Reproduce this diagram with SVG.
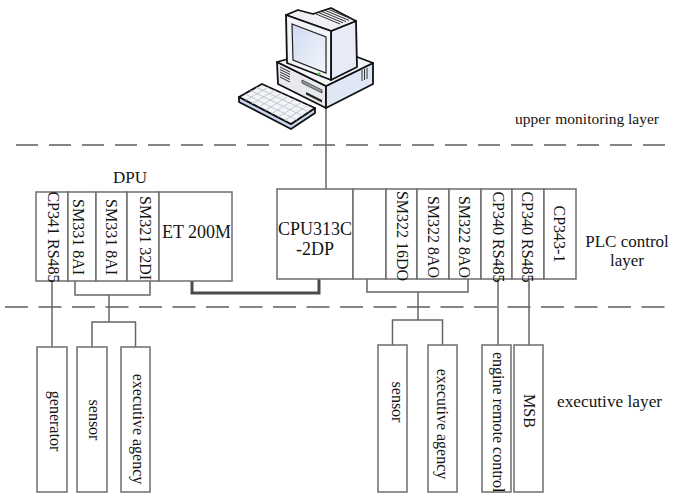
<svg xmlns="http://www.w3.org/2000/svg" width="673" height="494" viewBox="0 0 673 494">
  <style>
    .box { fill: #ffffff; stroke: #6e6e6e; stroke-width: 1.5; }
    .t { font-family: "Liberation Serif", "Times New Roman", serif; fill: #141414; }
    .s16 { font-size: 16px; }
    .s18 { font-size: 18px; }
    .conn { fill: none; stroke: #666666; stroke-width: 1.5; }
    .bus { fill: none; stroke: #4a4a4a; stroke-width: 3; }
    .dash { fill: none; stroke: #858585; stroke-width: 2; }
    .ink { stroke: #111111; stroke-width: 1.8; stroke-linejoin: round; }
    .key { stroke: #b9bdc9; stroke-width: 0.8; fill: none; }
    .vent { stroke: #333333; stroke-width: 1; fill: none; }
  </style>
  <defs>
    <linearGradient id="screenGrad" x1="0" y1="0" x2="1" y2="1">
      <stop offset="0" stop-color="#cfd9f0"/>
      <stop offset="1" stop-color="#f4f6fb"/>
    </linearGradient>
  </defs>

  <rect width="673" height="494" fill="#ffffff"/>

  <!-- layer separators -->
  <g id="separators">
    <line class="dash" x1="16" y1="145" x2="665" y2="145" stroke-dasharray="22 11"/>
    <line class="dash" x1="5" y1="307" x2="665" y2="307" stroke-dasharray="23 10.5"/>
  </g>

  <!-- layer captions -->
  <g id="captions">
    <text class="t" x="515" y="124" font-size="15.5">upper<tspan dx="5">monitoring layer</tspan></text>
    <text class="t" x="627" y="247" font-size="17" text-anchor="middle">PLC control</text>
    <text class="t" x="627" y="266" font-size="17" text-anchor="middle">layer</text>
    <text class="t" x="557" y="407" font-size="17.3">executive layer</text>
  </g>

  <!-- connectors -->
  <g id="connectors">
    <path class="conn" d="M326,107 V189"/>
    <path class="conn" d="M52,281 V347"/>
    <path class="conn" d="M75,281 V295 H150 V281"/>
    <path class="conn" d="M109,295 V322"/>
    <path class="conn" d="M92,347 V322 H135.5 V347"/>
    <path class="bus" d="M192,281 V293 H319 V279"/>
    <path class="conn" d="M367,279 V292 H468 V279"/>
    <path class="conn" d="M418,292 V320"/>
    <path class="conn" d="M392.5,345 V320 H442.5 V345"/>
    <path class="conn" d="M498,279 V345"/>
    <path class="conn" d="M529,279 V345"/>
  </g>

  <!-- upper computer -->
  <g id="upper-computer">
    <!-- keyboard -->
    <polygon class="ink" fill="#c9d4ee" points="239,97 291,124 315,108 315,113 291,129 239,102"/>
    <polygon class="ink" fill="#f3f4f8" points="239,97 262,84 315,108 291,124"/>
    <path class="key" d="M244.8,93.8 L297,120 M250.5,90.5 L303,116 M256.3,87.3 L309,112
                         M245.5,100.4 L268.6,87 M252,103.8 L275.3,90 M258.5,107.1 L281.9,93
                         M265,110.5 L288.5,96 M271.5,113.9 L295.1,99 M278,117.3 L301.8,102
                         M284.5,120.6 L308.4,105"/>
    <!-- case -->
    <polygon class="ink" fill="#e7e9ef" points="277,62 326,86 326,108 278,84"/>
    <polygon class="ink" fill="#dfe6f4" points="326,86 373,63 373,84 326,108"/>
    <polygon class="ink" fill="#f5f6f9" points="277,62 331,47 373,63 326,86"/>
    <path class="vent" d="M280,67 L290,72 M280,69.5 L290,74.5 M280,72 L290,77 M280,74.5 L290,79.5 M280,77 L290,82"/>
    <polygon fill="#9a9ea8" stroke="#333" stroke-width="0.8" points="302,80 322,90 322,93 302,83"/>
    <polygon fill="#222" points="306,92 322,100 322,102.5 306,94.5"/>
    <path class="vent" d="M362,70 V81 M364.5,69 V80 M367,68 V79"/>
    <!-- monitor -->
    <polygon class="ink" fill="#e6ebf6" points="331,31 356,21 357,67 331,80"/>
    <polygon class="ink" fill="#eef0f4" points="286,15 298,10 313,14 331,8 356,21 331,31"/>
    <path class="vent" d="M316,14 L340,24 M319,12.8 L343,22.8 M322,11.6 L346,21.6 M325,10.4 L349,20.4 M328,9.2 L352,19.2"/>
    <polygon class="ink" fill="#f3f4f7" points="286,15 331,31 331,80 287,63"/>
    <polygon fill="url(#screenGrad)" stroke="#222" stroke-width="1.2" points="292,24 326,37 326,73 293,60"/>
    <circle cx="319" cy="74" r="1.6" fill="#37c23a"/>
  </g>

  <!-- DPU rack (ET 200M station) -->
  <g id="dpu">
    <text class="t" x="130" y="183" font-size="17" text-anchor="middle">DPU</text>
  </g>
  <g id="cp341">
    <rect class="box" x="36" y="192" width="32" height="89"/>
    <text class="t s16" text-anchor="middle" transform="translate(48,237) rotate(90)">CP341 RS485</text>
  </g>
  <g id="sm331-a">
    <rect class="box" x="68" y="192" width="28" height="89"/>
    <text class="t s16" text-anchor="middle" transform="translate(73,237) rotate(90)">SM331 8AI</text>
  </g>
  <g id="sm331-b">
    <rect class="box" x="96" y="192" width="31" height="89"/>
    <text class="t s16" text-anchor="middle" transform="translate(106,237) rotate(90)">SM331 8AI</text>
  </g>
  <g id="sm321">
    <rect class="box" x="127" y="192" width="32" height="89"/>
    <text class="t s16" text-anchor="middle" transform="translate(140,238) rotate(90)">SM321 32DI</text>
  </g>
  <g id="et200m">
    <rect class="box" x="159" y="192" width="73" height="89"/>
    <text class="t s18" x="196.5" y="238" text-anchor="middle">ET 200M</text>
  </g>

  <!-- PLC rack -->
  <g id="cpu313c">
    <rect class="box" x="277" y="189" width="76" height="90"/>
    <text class="t s18" x="315" y="235" text-anchor="middle">CPU313C</text>
    <text class="t s18" x="315" y="255" text-anchor="middle">-2DP</text>
  </g>
  <g id="slot-empty">
    <rect class="box" x="353" y="189" width="33" height="90"/>
  </g>
  <g id="sm322-16do">
    <rect class="box" x="386" y="189" width="31" height="90"/>
    <text class="t s16" text-anchor="middle" transform="translate(397,236) rotate(90)">SM322 16DO</text>
  </g>
  <g id="sm322-8ao-a">
    <rect class="box" x="417" y="189" width="32" height="90"/>
    <text class="t s16" text-anchor="middle" transform="translate(428,237) rotate(90)">SM322 8AO</text>
  </g>
  <g id="sm322-8ao-b">
    <rect class="box" x="449" y="189" width="32" height="90"/>
    <text class="t s16" text-anchor="middle" transform="translate(459,237) rotate(90)">SM322 8AO</text>
  </g>
  <g id="cp340-a">
    <rect class="box" x="481" y="189" width="31" height="90"/>
    <text class="t s16" text-anchor="middle" transform="translate(493,237) rotate(90)">CP340 RS485</text>
  </g>
  <g id="cp340-b">
    <rect class="box" x="512" y="189" width="32" height="90"/>
    <text class="t s16" text-anchor="middle" transform="translate(522,237) rotate(90)">CP340 RS485</text>
  </g>
  <g id="cp343-1">
    <rect class="box" x="544" y="189" width="32" height="90"/>
    <text class="t s16" text-anchor="middle" transform="translate(554,234) rotate(90)">CP343-1</text>
  </g>

  <!-- field devices -->
  <g id="generator">
    <rect class="box" x="37" y="347" width="30" height="145"/>
    <text class="t s16" text-anchor="middle" transform="translate(50,421) rotate(90)">generator</text>
  </g>
  <g id="sensor-dpu">
    <rect class="box" x="77" y="347" width="30" height="145"/>
    <text class="t s16" text-anchor="middle" transform="translate(89,420) rotate(90)">sensor</text>
  </g>
  <g id="agency-dpu">
    <rect class="box" x="121" y="347" width="29" height="145"/>
    <text class="t s16" text-anchor="middle" transform="translate(133,429) rotate(90)">executive agency</text>
  </g>
  <g id="sensor-plc">
    <rect class="box" x="378" y="345" width="29" height="147"/>
    <text class="t s16" text-anchor="middle" transform="translate(392,402) rotate(90)">sensor</text>
  </g>
  <g id="agency-plc">
    <rect class="box" x="428" y="345" width="29" height="147"/>
    <text class="t s16" text-anchor="middle" transform="translate(437,424) rotate(90)">executive agency</text>
  </g>
  <g id="engine-remote">
    <rect class="box" x="482" y="345" width="29" height="147"/>
    <text class="t s16" transform="translate(493,352) rotate(90)">engine remote control</text>
  </g>
  <g id="msb">
    <rect class="box" x="514" y="345" width="29" height="147"/>
    <text class="t s16" text-anchor="middle" transform="translate(524,411) rotate(90)">MSB</text>
  </g>
</svg>
